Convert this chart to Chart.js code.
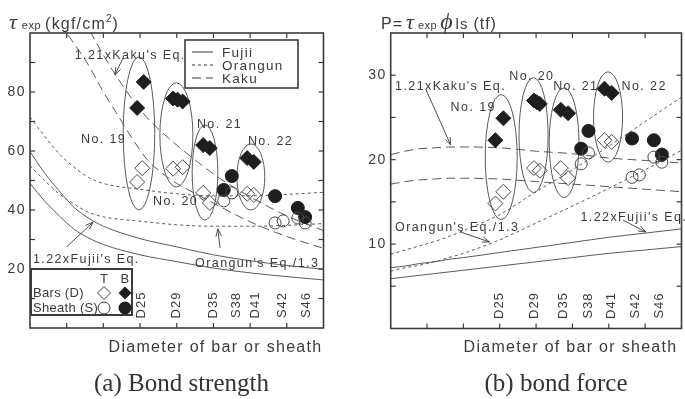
<!DOCTYPE html>
<html>
<head>
<meta charset="utf-8">
<script src="https://cdn.jsdelivr.net/npm/chart.js@4.4.1/dist/chart.umd.min.js"></script>
<style>
  html, body { margin: 0; padding: 0; background: #fff; overflow: hidden; }
  #wrap { position: relative; width: 685px; height: 399px; overflow: hidden; background: #fff; }
  canvas { position: absolute; top: 0; }
  #left { left: 0; }
  #right { left: 345px; }
</style>
</head>
<body>
<div id="wrap">
  <canvas id="left" width="345" height="399"></canvas>
  <canvas id="right" width="345" height="399"></canvas>
</div>
<script>
// ---- data (x = diameter of bar or sheath, mm) ----
const curveX = [10, 12, 14, 16, 18, 20, 25, 30, 35, 40, 45, 50];
const kakuX  = [14, 16, 18, 20, 22, 24, 26, 28, 30, 33, 36, 40, 45, 50];

// (a) bond strength, kgf/cm2
const fujiiA      = [49, 43, 38, 33.5, 30.5, 28.3, 24.8, 22.5, 20.3, 18.7, 17.4, 16.3];
const fujii122A   = [59.8, 52.5, 46.4, 40.9, 37.2, 34.5, 30.3, 27.5, 24.8, 22.8, 21.2, 19.9];
const orangunA    = [71.5, 65, 59, 54.5, 51, 49, 47, 45.5, 44.8, 44.8, 45.3, 46];
const orangun13A  = [55, 50, 45.4, 42, 39.2, 37.7, 36.2, 35, 34.5, 34.5, 34.8, 35.4];
const kakuA       = [103, 96.5, 89, 80, 72, 64, 57, 52.5, 49, 45, 41, 36, 31, 27];
const kaku121A    = [122, 111, 101.5, 92.5, 84.5, 77.3, 71.2, 66.3, 62, 56, 50.5, 44.5, 38, 33];

// (b) bond force, tf
const fujiiB      = [5.9, 6.1, 6.3, 6.5, 6.7, 6.9, 7.4, 7.9, 8.4, 8.9, 9.3, 9.7];
const fujii122B   = [7.2, 7.4, 7.7, 7.9, 8.2, 8.4, 9.0, 9.6, 10.2, 10.8, 11.3, 11.8];
const orangunB    = [8.8, 9.3, 9.8, 10.3, 10.9, 11.6, 13.5, 16.2, 18.8, 21.6, 24.5, 27.4];
const orangun13B  = [6.8, 7.2, 7.5, 7.9, 8.4, 8.9, 10.5, 12.5, 14.5, 16.6, 18.8, 21.1];
const kakuB       = [17.1, 17.4, 17.6, 17.7, 17.8, 17.8, 17.7, 17.4, 17.1, 16.8, 16.5, 16.2];
const kaku121B    = [20.6, 21.0, 21.3, 21.4, 21.5, 21.5, 21.4, 21.0, 20.7, 20.2, 19.9, 19.6];

// test results: bars (diamonds) and sheaths (circles), T = top, B = bottom
const barsTX_A = [24.6, 25.3, 29.5, 30.8, 33.6, 34.5, 39.6, 40.5];
const barsTY_A = [49.5, 54.2, 54.0, 54.5, 45.8, 42.4, 45.5, 45.1];
const barsBX_A = [24.6, 25.5, 29.5, 30.1, 30.8, 33.6, 34.5, 39.6, 40.5];
const barsBY_A = [74.6, 83.4, 77.8, 77.4, 76.8, 62.0, 61.0, 57.6, 56.3];
const sheathTX_A = [36.4, 37.5, 43.4, 44.5, 46.5, 47.5];
const sheathTY_A = [43.1, 45.8, 35.6, 36.3, 37.3, 35.6];
const sheathBX_A = [36.4, 37.5, 43.4, 46.5, 47.5];
const sheathBY_A = [46.8, 51.5, 44.7, 40.7, 37.6];

const barsTX_B = [24.4, 25.5, 29.7, 30.5, 33.4, 34.4, 39.4, 40.4];
const barsTY_B = [14.8, 16.2, 19.0, 18.7, 19.0, 17.8, 22.3, 22.1];
const barsBX_B = [24.4, 25.5, 29.7, 30.1, 30.5, 33.4, 34.4, 39.4, 40.4];
const barsBY_B = [22.3, 24.9, 27.0, 26.8, 26.6, 25.9, 25.5, 28.4, 27.9];
const sheathTX_B = [36.2, 37.2, 43.2, 44.2, 46.2, 47.3];
const sheathTY_B = [19.5, 20.8, 17.9, 18.2, 20.3, 19.7];
const sheathBX_B = [36.2, 37.2, 43.2, 46.2, 47.3];
const sheathBY_B = [21.3, 23.4, 22.5, 22.3, 20.6];

// size labels along the x axis
const sizeNames = ['D25', 'D29', 'D35', 'S38', 'D41', 'S42', 'S46'];
const sizePosA = [25.2, 30.0, 35.0, 38.1, 40.7, 44.4, 47.7];
const sizePosB = [25.0, 29.8, 33.8, 37.2, 40.4, 43.6, 46.9];

// specimen groups: [xmin, xmax, ymin, ymax]
const specimens = ['No. 19', 'No. 20', 'No. 21', 'No. 22'];
const groupsA = [[22.7, 27.0, 40.0, 91.9], [27.7, 32.2, 47.8, 83.1], [32.1, 35.6, 36.6, 68.8], [38.2, 42.0, 40.0, 62.4]];
const groupsB = [[23.0, 27.4, 12.9, 27.7], [27.65, 31.65, 16.1, 29.7], [31.8, 35.9, 15.5, 28.5], [37.9, 41.9, 19.7, 30.4]];

const curveNames = ['Fujii', 'Orangun', 'Kaku'];

// ---- styles ----
const ink = '#3b3b3b';
const lineInk = '#5a5a5a';
const dashes = { Fujii: [], Orangun: [3, 3], Kaku: [9, 5] };
const sans = "'Liberation Sans', Arial, sans-serif";
const serif = "'Liberation Serif', 'Times New Roman', serif";

function curve(xs, ys, dash) {
    return {
        data: xs.map((v, i) => ({ x: v, y: ys[i] })),
        showLine: true, borderColor: lineInk, borderWidth: 1, borderDash: dash,
        pointRadius: 0, tension: 0.4, cubicInterpolationMode: 'monotone', fill: false
    };
}

function marks(xs, ys, style, filled, r) {
    return {
        data: xs.map((v, i) => ({ x: v, y: ys[i] })),
        showLine: false, pointStyle: style, pointRadius: r,
        backgroundColor: filled ? '#1e1e1e' : 'rgba(255,255,255,0)',
        borderColor: filled ? '#1e1e1e' : '#4a4a4a', borderWidth: 1
    };
}

function spaced(ctx, px) { ctx.letterSpacing = px + 'px'; }

function line(ctx, x0, y0, x1, y1) {
    ctx.beginPath(); ctx.moveTo(x0, y0); ctx.lineTo(x1, y1); ctx.stroke();
}

function arrow(ctx, x0, y0, x1, y1) {
    line(ctx, x0, y0, x1, y1);
    const a = Math.atan2(y1 - y0, x1 - x0), h = 8, w = 0.35;
    ctx.beginPath();
    ctx.moveTo(x1 - h * Math.cos(a - w), y1 - h * Math.sin(a - w));
    ctx.lineTo(x1, y1);
    ctx.lineTo(x1 - h * Math.cos(a + w), y1 - h * Math.sin(a + w));
    ctx.stroke();
}

function runs(ctx, x, y, parts) {
    parts.forEach(p => {
        ctx.font = p.font;
        spaced(ctx, p.sp || 0);
        ctx.fillText(p.t, x, y + (p.dy || 0));
        x += ctx.measureText(p.t).width + (p.gap || 0);
    });
    spaced(ctx, 0);
}

function panelPlugin(cfg) {
    return {
        id: 'panel',
        beforeDatasetsDraw(chart) {
            const { ctx, scales: { x, y } } = chart;
            ctx.save();
            ctx.strokeStyle = lineInk;
            ctx.lineWidth = 1;
            cfg.groups.forEach(g => {
                const x0 = x.getPixelForValue(g[0]), x1 = x.getPixelForValue(g[1]);
                const y0 = y.getPixelForValue(g[2]), y1 = y.getPixelForValue(g[3]);
                ctx.beginPath();
                ctx.ellipse((x0 + x1) / 2, (y0 + y1) / 2, Math.abs(x1 - x0) / 2, Math.abs(y1 - y0) / 2, 0, 0, Math.PI * 2);
                ctx.stroke();
            });
            ctx.restore();
        },
        afterDatasetsDraw(chart) {
            const { ctx, chartArea: ca, scales: { x, y } } = chart;
            ctx.save();
            ctx.strokeStyle = ink;
            ctx.fillStyle = ink;

            // frame + inward ticks
            ctx.lineWidth = 1.6;
            ctx.strokeRect(ca.left, ca.top, ca.right - ca.left, ca.bottom - ca.top);
            ctx.lineWidth = 1.2;
            for (let v = 15; v < 50; v += 5) {
                const px = x.getPixelForValue(v);
                line(ctx, px, ca.bottom, px, ca.bottom - 5);
                line(ctx, px, ca.top, px, ca.top + 5);
            }
            for (let v = cfg.yStep; v < cfg.yMax; v += cfg.yStep) {
                const py = y.getPixelForValue(v);
                line(ctx, ca.left, py, ca.left + 5, py);
                line(ctx, ca.right, py, ca.right - 5, py);
            }

            // y tick labels
            ctx.font = '14px ' + sans;
            spaced(ctx, 1.5);
            ctx.textAlign = 'right';
            ctx.textBaseline = 'middle';
            cfg.yLabels.forEach(v => ctx.fillText(String(v), ca.left - 4, y.getPixelForValue(v)));

            // size labels (rotated)
            ctx.font = '13px ' + sans;
            spaced(ctx, 1);
            ctx.textAlign = 'center';
            sizeNames.forEach((s, i) => {
                ctx.save();
                ctx.translate(x.getPixelForValue(cfg.sizePos[i]), ca.bottom - 23);
                ctx.rotate(-Math.PI / 2);
                ctx.fillText(s, 0, 0);
                ctx.restore();
            });

            // notes and arrows
            ctx.font = '12.5px ' + sans;
            spaced(ctx, 1.4);
            ctx.textAlign = 'left';
            cfg.notes.forEach(n => ctx.fillText(n.t, x.getPixelForValue(n.x), y.getPixelForValue(n.y)));
            ctx.lineWidth = 0.9;
            cfg.arrows.forEach(a => arrow(ctx, x.getPixelForValue(a[0]), y.getPixelForValue(a[1]),
                                              x.getPixelForValue(a[2]), y.getPixelForValue(a[3])));

            // x axis title
            ctx.font = '16px ' + sans;
            spaced(ctx, 1.3);
            ctx.textAlign = 'right';
            ctx.textBaseline = 'alphabetic';
            ctx.fillText('Diameter of bar or sheath', ca.right + cfg.titleShift, 352);

            // caption
            ctx.font = '25px ' + serif;
            spaced(ctx, 0);
            ctx.textAlign = 'center';
            ctx.fillStyle = '#333';
            ctx.fillText(cfg.caption, cfg.captionX, 391);

            // y title
            ctx.textAlign = 'left';
            ctx.fillStyle = ink;
            runs(ctx, cfg.yTitleX, 29, cfg.yTitle);

            if (cfg.legend) cfg.legend(ctx, ca);
            ctx.restore();
        }
    };
}

function legendA(ctx, ca) {
    // line style key
    const bx = ca.left + 155, by = ca.top + 7;
    ctx.lineWidth = 1.6;
    ctx.strokeRect(bx, by, 113, 48);
    ctx.font = '13.5px ' + sans;
    spaced(ctx, 1.3);
    ctx.textAlign = 'left';
    ctx.textBaseline = 'middle';
    curveNames.forEach((name, i) => {
        const yy = by + 12 + i * 13;
        ctx.lineWidth = 1;
        ctx.setLineDash(dashes[name]);
        line(ctx, bx + 7, yy, bx + 28, yy);
        ctx.setLineDash([]);
        ctx.fillText(name, bx + 37, yy + 1);
    });

    // marker key
    const lx = ca.left + 1, ly = ca.bottom - 59;
    ctx.lineWidth = 2;
    ctx.strokeRect(lx, ly, 101, 46);
    ctx.font = '13px ' + sans;
    spaced(ctx, 0.3);
    ctx.textAlign = 'center';
    ctx.fillText('T', lx + 73, ly + 10);
    ctx.fillText('B', lx + 94, ly + 10);
    ctx.textAlign = 'left';
    ctx.fillText('Bars (D)', lx + 2, ly + 24);
    ctx.fillText('Sheath (S)', lx + 2, ly + 39);
    ctx.lineWidth = 1;
    const dia = (cx, cy, r, fill) => {
        ctx.beginPath();
        ctx.moveTo(cx, cy - r); ctx.lineTo(cx + r, cy); ctx.lineTo(cx, cy + r); ctx.lineTo(cx - r, cy); ctx.closePath();
        if (fill) { ctx.fillStyle = '#1e1e1e'; ctx.fill(); ctx.fillStyle = ink; } else ctx.stroke();
    };
    dia(lx + 73, ly + 24, 6.5, false);
    dia(lx + 94, ly + 24, 6.5, true);
    ctx.beginPath(); ctx.arc(lx + 73, ly + 39, 6, 0, Math.PI * 2); ctx.stroke();
    ctx.beginPath(); ctx.arc(lx + 94, ly + 39, 6.5, 0, Math.PI * 2);
    ctx.fillStyle = '#1e1e1e'; ctx.fill(); ctx.fillStyle = ink;
}

function makePanel(id, cfg) {
    return new Chart(document.getElementById(id), {
        type: 'scatter',
        data: {
            datasets: [
                marks(cfg.bars[0], cfg.bars[1], 'rectRot', false, 7.5),
                marks(cfg.bars[2], cfg.bars[3], 'rectRot', true, 7.5),
                marks(cfg.sheaths[0], cfg.sheaths[1], 'circle', false, 6),
                marks(cfg.sheaths[2], cfg.sheaths[3], 'circle', true, 6.5),
                curve(curveX, cfg.fujii[0], dashes.Fujii),
                curve(curveX, cfg.fujii[1], dashes.Fujii),
                curve(curveX, cfg.orangun[0], dashes.Orangun),
                curve(curveX, cfg.orangun[1], dashes.Orangun),
                curve(cfg.kakuX, cfg.kaku[0], dashes.Kaku),
                curve(cfg.kakuX, cfg.kaku[1], dashes.Kaku)
            ]
        },
        options: {
            responsive: false,
            animation: false,
            devicePixelRatio: 1,
            layout: { padding: cfg.padding },
            plugins: { legend: { display: false }, tooltip: { enabled: false }, title: { display: false } },
            scales: {
                x: { type: 'linear', min: 10, max: 50, display: false },
                y: { type: 'linear', min: 0, max: cfg.yMax, display: false }
            }
        },
        plugins: [panelPlugin(cfg)]
    });
}

makePanel('left', {
    padding: { left: 30, top: 33, right: 21.5, bottom: 71 },
    yMax: 100, yStep: 10, yLabels: [20, 40, 60, 80],
    bars: [barsTX_A, barsTY_A, barsBX_A, barsBY_A],
    sheaths: [sheathTX_A, sheathTY_A, sheathBX_A, sheathBY_A],
    fujii: [fujiiA, fujii122A], orangun: [orangunA, orangun13A],
    kakuX: kakuX, kaku: [kakuA, kaku121A],
    sizePos: sizePosA, groups: groupsA,
    notes: [
        { t: "1.21xKaku's Eq.", x: 16.1, y: 92.5 },
        { t: specimens[0], x: 16.95, y: 63.8 },
        { t: specimens[1], x: 26.76, y: 42.8 },
        { t: specimens[2], x: 32.75, y: 68.9 },
        { t: specimens[3], x: 39.7, y: 63.1 },
        { t: "1.22xFujii's Eq.", x: 10.4, y: 23.1 },
        { t: "Orangun's Eq./1.3", x: 32.5, y: 21.8 }
    ],
    arrows: [[22.67, 91.5, 21.58, 85.8], [15.0, 27.5, 18.6, 35.9], [35.9, 27.1, 35.6, 33.6]],
    titleShift: -1, caption: '(a) Bond strength', captionX: 181.5,
    yTitleX: 9,
    yTitle: [
        { t: '\u03c4', font: 'italic 22px ' + serif, gap: 5 },
        { t: 'exp', font: '11px ' + sans, sp: 0.5, gap: 4 },
        { t: '(kgf/cm', font: '16px ' + sans, sp: 1.2 },
        { t: '2', font: '10px ' + sans, dy: -7, gap: 1 },
        { t: ')', font: '16px ' + sans }
    ],
    legend: legendA
});

makePanel('right', {
    padding: { left: 45.7, top: 33, right: 1.7, bottom: 70.5 },
    yMax: 35, yStep: 5, yLabels: [10, 20, 30],
    bars: [barsTX_B, barsTY_B, barsBX_B, barsBY_B],
    sheaths: [sheathTX_B, sheathTY_B, sheathBX_B, sheathBY_B],
    fujii: [fujiiB, fujii122B], orangun: [orangunB, orangun13B],
    kakuX: curveX, kaku: [kakuB, kaku121B],
    sizePos: sizePosB, groups: groupsB,
    notes: [
        { t: "1.21xKaku's Eq.", x: 10.6, y: 28.6 },
        { t: specimens[0], x: 18.24, y: 26.2 },
        { t: specimens[1], x: 26.3, y: 29.8 },
        { t: specimens[2], x: 32.35, y: 28.6 },
        { t: specimens[3], x: 41.76, y: 28.6 },
        { t: "Orangun's Eq./1.3", x: 10.6, y: 12.0 },
        { t: "1.22xFujii's Eq.", x: 36.1, y: 13.2 }
    ],
    arrows: [[14.88, 28.26, 18.24, 21.74], [19.58, 11.43, 23.6, 10.25], [41.9, 12.86, 45.1, 11.43]],
    titleShift: -4, caption: '(b) bond force', captionX: 211,
    yTitleX: 36,
    yTitle: [
        { t: 'P=', font: '16px ' + sans, sp: 1, gap: 3 },
        { t: '\u03c4', font: 'italic 22px ' + serif, gap: 4 },
        { t: 'exp', font: '11px ' + sans, sp: 0.5, gap: 3 },
        { t: '\u03d5', font: 'italic 24px ' + serif, gap: 3 },
        { t: 'ls', font: '15px ' + sans, sp: 1, gap: 5 },
        { t: '(tf)', font: '16px ' + sans, sp: 1 }
    ]
});
</script>
</body>
</html>
